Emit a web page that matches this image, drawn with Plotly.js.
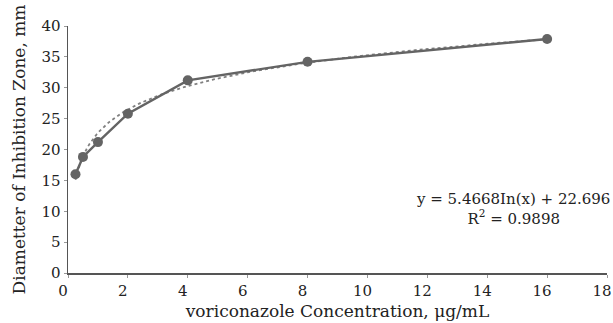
<!DOCTYPE html>
<html><head><meta charset="utf-8">
<script src="https://cdn.plot.ly/plotly-3.0.1.min.js"></script>
<style>html,body{margin:0;padding:0;background:#fff;}#chart{width:613px;height:323px;}</style>
</head><body><div id="chart"></div>
<script>
const concentration = [0.25, 0.5, 1, 2, 4, 8, 16];
const diameter = [16.0, 18.8, 21.2, 25.8, 31.2, 34.2, 37.9];
const fitSlope = 5.4668;
const fitIntercept = 22.696;
const fitR2 = 0.9898;
const xTicks = [0, 2, 4, 6, 8, 10, 12, 14, 16, 18];
const yTicks = [0, 5, 10, 15, 20, 25, 30, 35, 40];

const fitX = [];
for (let i = 0; i <= 200; i++) fitX.push(0.25 + (16 - 0.25) * i / 200);
const fitY = fitX.map(x => fitSlope * Math.log(x) + fitIntercept);

const tickFont = {family: 'DejaVu Serif, serif', color: '#222', size: 15};
const titleFont = {family: 'DejaVu Serif, serif', color: '#222', size: 17};
const annFont = {family: 'DejaVu Serif, serif', color: '#222', size: 15};
const data = [
  {x: fitX, y: fitY, mode: 'lines', line: {color: '#808080', width: 1.8, dash: 'dot'}, hoverinfo: 'skip'},
  {x: concentration, y: diameter, mode: 'lines+markers',
   line: {color: '#646464', width: 2.4}, marker: {color: '#646464', size: 10}}
];
const axisCommon = {showgrid: false, zeroline: false, showline: true, linecolor: '#555', linewidth: 1.5,
  ticks: 'outside', ticklen: 3, tickcolor: '#999', tickwidth: 1, tickfont: tickFont};
const layout = {
  width: 613, height: 323,
  margin: {l: 68, r: 6, t: 26, b: 50},
  paper_bgcolor: '#fff', plot_bgcolor: '#fff',
  showlegend: false,
  font: tickFont,
  xaxis: Object.assign({}, axisCommon, {range: [0, 18], tickvals: xTicks, ticktext: xTicks.map(String),
    ticklabelshift: -5,
    title: {text: 'voriconazole Concentration, μg/mL', font: titleFont, standoff: 6}}),
  yaxis: Object.assign({}, axisCommon, {range: [0, 40], tickvals: yTicks, ticktext: yTicks.map(String),
    title: {text: 'Diametter of Inhibition Zone, mm', font: titleFont, standoff: 11}}),
  annotations: [{
    x: 1.009, y: 10.4, xref: 'paper', yref: 'y', showarrow: false, align: 'center', xanchor: 'right', yanchor: 'middle',
    text: 'y = ' + fitSlope + 'In(x) + ' + fitIntercept + '<br>R<sup>2</sup> = ' + fitR2,
    font: annFont
  }]
};
Plotly.newPlot('chart', data, layout, {displayModeBar: false, staticPlot: true});
</script></body></html>
